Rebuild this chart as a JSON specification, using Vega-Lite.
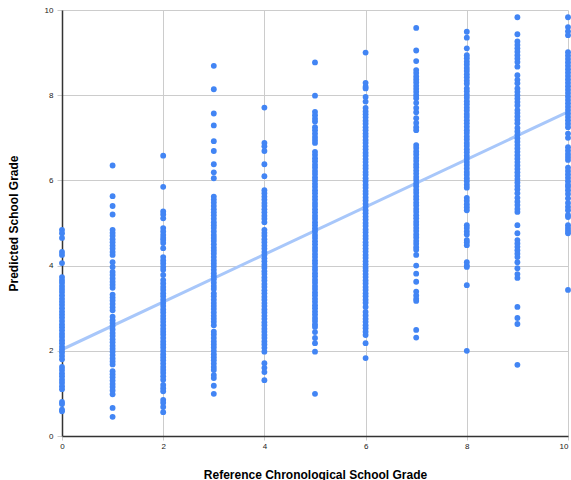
{
  "$schema": "https://vega.github.io/schema/vega-lite/v6.json",
  "width": 506,
  "height": 426,
  "autosize": {"type": "none"},
  "padding": {"left": 62, "top": 10, "right": 3, "bottom": 44},
  "background": "white",
  "config": {
    "view": {"stroke": null},
    "font": "Liberation Sans",
    "axis": {
      "gridColor": "#cccccc",
      "gridWidth": 1,
      "tickColor": "#cccccc",
      "domainColor": "#333333",
      "domainWidth": 1.5,
      "labelFont": "Liberation Sans",
      "labelFontSize": 8,
      "labelColor": "#222222",
      "titleFont": "Liberation Sans",
      "titleFontSize": 12,
      "titleFontWeight": "bold",
      "titleColor": "#000000"
    }
  },
  "datasets": {
    "pts": [
      {"x":0,"y":4.84},{"x":0,"y":4.76},{"x":0,"y":4.65},{"x":0,"y":4.32},{"x":0,"y":4.25},{"x":0,"y":4.06},{"x":0,"y":3.73},{"x":0,"y":3.66},{"x":0,"y":3.6},{"x":0,"y":3.52},{"x":0,"y":3.45},{"x":0,"y":3.38},{"x":0,"y":3.3},{"x":0,"y":3.22},{"x":0,"y":3.15},{"x":0,"y":3.08},{"x":0,"y":3.0},{"x":0,"y":2.92},{"x":0,"y":2.85},{"x":0,"y":2.78},{"x":0,"y":2.7},{"x":0,"y":2.62},{"x":0,"y":2.55},{"x":0,"y":2.48},{"x":0,"y":2.4},{"x":0,"y":2.33},{"x":0,"y":2.25},{"x":0,"y":2.18},{"x":0,"y":2.1},{"x":0,"y":2.03},{"x":0,"y":1.96},{"x":0,"y":1.88},{"x":0,"y":1.8},{"x":0,"y":1.62},{"x":0,"y":1.55},{"x":0,"y":1.47},{"x":0,"y":1.4},{"x":0,"y":1.32},{"x":0,"y":1.25},{"x":0,"y":1.17},{"x":0,"y":1.1},{"x":0,"y":0.8},{"x":0,"y":0.75},{"x":0,"y":0.62},{"x":0,"y":0.58},
      {"x":1,"y":6.35},{"x":1,"y":5.63},{"x":1,"y":5.4},{"x":1,"y":5.2},{"x":1,"y":4.84},{"x":1,"y":4.77},{"x":1,"y":4.7},{"x":1,"y":4.62},{"x":1,"y":4.55},{"x":1,"y":4.47},{"x":1,"y":4.4},{"x":1,"y":4.32},{"x":1,"y":4.25},{"x":1,"y":4.08},{"x":1,"y":3.97},{"x":1,"y":3.85},{"x":1,"y":3.78},{"x":1,"y":3.7},{"x":1,"y":3.62},{"x":1,"y":3.55},{"x":1,"y":3.48},{"x":1,"y":3.32},{"x":1,"y":3.25},{"x":1,"y":3.18},{"x":1,"y":3.1},{"x":1,"y":3.02},{"x":1,"y":2.95},{"x":1,"y":2.8},{"x":1,"y":2.72},{"x":1,"y":2.65},{"x":1,"y":2.58},{"x":1,"y":2.5},{"x":1,"y":2.42},{"x":1,"y":2.35},{"x":1,"y":2.27},{"x":1,"y":2.2},{"x":1,"y":2.12},{"x":1,"y":2.05},{"x":1,"y":1.98},{"x":1,"y":1.9},{"x":1,"y":1.82},{"x":1,"y":1.75},{"x":1,"y":1.68},{"x":1,"y":1.52},{"x":1,"y":1.45},{"x":1,"y":1.38},{"x":1,"y":1.3},{"x":1,"y":1.22},{"x":1,"y":1.15},{"x":1,"y":1.07},{"x":1,"y":0.98},{"x":1,"y":0.66},{"x":1,"y":0.45},
      {"x":2,"y":6.58},{"x":2,"y":5.85},{"x":2,"y":5.27},{"x":2,"y":5.2},{"x":2,"y":5.11},{"x":2,"y":4.88},{"x":2,"y":4.8},{"x":2,"y":4.72},{"x":2,"y":4.65},{"x":2,"y":4.6},{"x":2,"y":4.53},{"x":2,"y":4.41},{"x":2,"y":4.2},{"x":2,"y":4.12},{"x":2,"y":4.05},{"x":2,"y":3.97},{"x":2,"y":3.9},{"x":2,"y":3.78},{"x":2,"y":3.66},{"x":2,"y":3.58},{"x":2,"y":3.5},{"x":2,"y":3.43},{"x":2,"y":3.35},{"x":2,"y":3.28},{"x":2,"y":3.2},{"x":2,"y":3.12},{"x":2,"y":3.05},{"x":2,"y":2.97},{"x":2,"y":2.9},{"x":2,"y":2.82},{"x":2,"y":2.75},{"x":2,"y":2.68},{"x":2,"y":2.6},{"x":2,"y":2.52},{"x":2,"y":2.45},{"x":2,"y":2.38},{"x":2,"y":2.3},{"x":2,"y":2.22},{"x":2,"y":2.15},{"x":2,"y":2.08},{"x":2,"y":2.0},{"x":2,"y":1.92},{"x":2,"y":1.85},{"x":2,"y":1.78},{"x":2,"y":1.7},{"x":2,"y":1.62},{"x":2,"y":1.55},{"x":2,"y":1.48},{"x":2,"y":1.4},{"x":2,"y":1.32},{"x":2,"y":1.2},{"x":2,"y":1.12},{"x":2,"y":1.05},{"x":2,"y":0.85},{"x":2,"y":0.78},{"x":2,"y":0.68},{"x":2,"y":0.56},
      {"x":3,"y":8.69},{"x":3,"y":8.14},{"x":3,"y":7.57},{"x":3,"y":7.29},{"x":3,"y":6.92},{"x":3,"y":6.69},{"x":3,"y":6.38},{"x":3,"y":6.19},{"x":3,"y":6.05},{"x":3,"y":5.62},{"x":3,"y":5.55},{"x":3,"y":5.48},{"x":3,"y":5.4},{"x":3,"y":5.32},{"x":3,"y":5.25},{"x":3,"y":5.18},{"x":3,"y":5.1},{"x":3,"y":5.02},{"x":3,"y":4.95},{"x":3,"y":4.88},{"x":3,"y":4.8},{"x":3,"y":4.72},{"x":3,"y":4.65},{"x":3,"y":4.58},{"x":3,"y":4.5},{"x":3,"y":4.42},{"x":3,"y":4.35},{"x":3,"y":4.28},{"x":3,"y":4.2},{"x":3,"y":4.12},{"x":3,"y":4.05},{"x":3,"y":3.98},{"x":3,"y":3.9},{"x":3,"y":3.82},{"x":3,"y":3.75},{"x":3,"y":3.68},{"x":3,"y":3.6},{"x":3,"y":3.52},{"x":3,"y":3.45},{"x":3,"y":3.35},{"x":3,"y":3.28},{"x":3,"y":3.2},{"x":3,"y":3.12},{"x":3,"y":3.05},{"x":3,"y":2.98},{"x":3,"y":2.9},{"x":3,"y":2.82},{"x":3,"y":2.75},{"x":3,"y":2.68},{"x":3,"y":2.6},{"x":3,"y":2.45},{"x":3,"y":2.38},{"x":3,"y":2.3},{"x":3,"y":2.22},{"x":3,"y":2.15},{"x":3,"y":2.08},{"x":3,"y":2.0},{"x":3,"y":1.92},{"x":3,"y":1.85},{"x":3,"y":1.78},{"x":3,"y":1.7},{"x":3,"y":1.62},{"x":3,"y":1.55},{"x":3,"y":1.43},{"x":3,"y":1.36},{"x":3,"y":1.18},{"x":3,"y":0.99},
      {"x":4,"y":7.71},{"x":4,"y":6.88},{"x":4,"y":6.8},{"x":4,"y":6.69},{"x":4,"y":6.38},{"x":4,"y":6.1},{"x":4,"y":5.77},{"x":4,"y":5.7},{"x":4,"y":5.62},{"x":4,"y":5.55},{"x":4,"y":5.47},{"x":4,"y":5.4},{"x":4,"y":5.32},{"x":4,"y":5.25},{"x":4,"y":5.17},{"x":4,"y":5.1},{"x":4,"y":5.02},{"x":4,"y":4.84},{"x":4,"y":4.77},{"x":4,"y":4.7},{"x":4,"y":4.62},{"x":4,"y":4.55},{"x":4,"y":4.47},{"x":4,"y":4.4},{"x":4,"y":4.32},{"x":4,"y":4.25},{"x":4,"y":4.17},{"x":4,"y":4.1},{"x":4,"y":4.02},{"x":4,"y":3.95},{"x":4,"y":3.87},{"x":4,"y":3.8},{"x":4,"y":3.72},{"x":4,"y":3.65},{"x":4,"y":3.57},{"x":4,"y":3.5},{"x":4,"y":3.42},{"x":4,"y":3.35},{"x":4,"y":3.27},{"x":4,"y":3.2},{"x":4,"y":3.12},{"x":4,"y":3.05},{"x":4,"y":2.97},{"x":4,"y":2.9},{"x":4,"y":2.82},{"x":4,"y":2.75},{"x":4,"y":2.67},{"x":4,"y":2.6},{"x":4,"y":2.52},{"x":4,"y":2.45},{"x":4,"y":2.37},{"x":4,"y":2.3},{"x":4,"y":2.22},{"x":4,"y":2.15},{"x":4,"y":2.07},{"x":4,"y":1.98},{"x":4,"y":1.71},{"x":4,"y":1.6},{"x":4,"y":1.5},{"x":4,"y":1.31},
      {"x":5,"y":8.77},{"x":5,"y":7.99},{"x":5,"y":7.61},{"x":5,"y":7.53},{"x":5,"y":7.45},{"x":5,"y":7.38},{"x":5,"y":7.25},{"x":5,"y":7.18},{"x":5,"y":7.1},{"x":5,"y":7.02},{"x":5,"y":6.95},{"x":5,"y":6.88},{"x":5,"y":6.67},{"x":5,"y":6.6},{"x":5,"y":6.52},{"x":5,"y":6.45},{"x":5,"y":6.37},{"x":5,"y":6.3},{"x":5,"y":6.22},{"x":5,"y":6.15},{"x":5,"y":6.07},{"x":5,"y":6.0},{"x":5,"y":5.92},{"x":5,"y":5.85},{"x":5,"y":5.77},{"x":5,"y":5.7},{"x":5,"y":5.62},{"x":5,"y":5.55},{"x":5,"y":5.47},{"x":5,"y":5.4},{"x":5,"y":5.32},{"x":5,"y":5.25},{"x":5,"y":5.17},{"x":5,"y":5.1},{"x":5,"y":5.02},{"x":5,"y":4.95},{"x":5,"y":4.87},{"x":5,"y":4.8},{"x":5,"y":4.72},{"x":5,"y":4.65},{"x":5,"y":4.57},{"x":5,"y":4.5},{"x":5,"y":4.42},{"x":5,"y":4.35},{"x":5,"y":4.27},{"x":5,"y":4.2},{"x":5,"y":4.12},{"x":5,"y":4.05},{"x":5,"y":3.97},{"x":5,"y":3.9},{"x":5,"y":3.82},{"x":5,"y":3.75},{"x":5,"y":3.67},{"x":5,"y":3.6},{"x":5,"y":3.52},{"x":5,"y":3.45},{"x":5,"y":3.37},{"x":5,"y":3.3},{"x":5,"y":3.22},{"x":5,"y":3.15},{"x":5,"y":3.07},{"x":5,"y":3.0},{"x":5,"y":2.92},{"x":5,"y":2.85},{"x":5,"y":2.77},{"x":5,"y":2.7},{"x":5,"y":2.62},{"x":5,"y":2.56},{"x":5,"y":2.44},{"x":5,"y":2.3},{"x":5,"y":2.18},{"x":5,"y":1.98},{"x":5,"y":0.99},
      {"x":6,"y":9.0},{"x":6,"y":8.29},{"x":6,"y":8.2},{"x":6,"y":8.16},{"x":6,"y":7.96},{"x":6,"y":7.85},{"x":6,"y":7.7},{"x":6,"y":7.62},{"x":6,"y":7.55},{"x":6,"y":7.48},{"x":6,"y":7.4},{"x":6,"y":7.33},{"x":6,"y":7.25},{"x":6,"y":7.18},{"x":6,"y":7.1},{"x":6,"y":7.03},{"x":6,"y":6.95},{"x":6,"y":6.88},{"x":6,"y":6.8},{"x":6,"y":6.73},{"x":6,"y":6.65},{"x":6,"y":6.58},{"x":6,"y":6.5},{"x":6,"y":6.43},{"x":6,"y":6.35},{"x":6,"y":6.28},{"x":6,"y":6.2},{"x":6,"y":6.13},{"x":6,"y":6.05},{"x":6,"y":5.98},{"x":6,"y":5.9},{"x":6,"y":5.83},{"x":6,"y":5.75},{"x":6,"y":5.68},{"x":6,"y":5.6},{"x":6,"y":5.53},{"x":6,"y":5.45},{"x":6,"y":5.38},{"x":6,"y":5.3},{"x":6,"y":5.23},{"x":6,"y":5.15},{"x":6,"y":5.08},{"x":6,"y":5.0},{"x":6,"y":4.93},{"x":6,"y":4.85},{"x":6,"y":4.78},{"x":6,"y":4.7},{"x":6,"y":4.63},{"x":6,"y":4.55},{"x":6,"y":4.48},{"x":6,"y":4.4},{"x":6,"y":4.33},{"x":6,"y":4.25},{"x":6,"y":4.18},{"x":6,"y":4.1},{"x":6,"y":4.03},{"x":6,"y":3.95},{"x":6,"y":3.88},{"x":6,"y":3.8},{"x":6,"y":3.73},{"x":6,"y":3.65},{"x":6,"y":3.58},{"x":6,"y":3.5},{"x":6,"y":3.43},{"x":6,"y":3.35},{"x":6,"y":3.28},{"x":6,"y":3.2},{"x":6,"y":3.13},{"x":6,"y":3.03},{"x":6,"y":2.91},{"x":6,"y":2.83},{"x":6,"y":2.75},{"x":6,"y":2.68},{"x":6,"y":2.6},{"x":6,"y":2.53},{"x":6,"y":2.45},{"x":6,"y":2.37},{"x":6,"y":2.18},{"x":6,"y":1.83},
      {"x":7,"y":9.58},{"x":7,"y":9.05},{"x":7,"y":8.8},{"x":7,"y":8.59},{"x":7,"y":8.52},{"x":7,"y":8.44},{"x":7,"y":8.37},{"x":7,"y":8.3},{"x":7,"y":8.22},{"x":7,"y":8.15},{"x":7,"y":8.08},{"x":7,"y":8.0},{"x":7,"y":7.93},{"x":7,"y":7.82},{"x":7,"y":7.7},{"x":7,"y":7.6},{"x":7,"y":7.46},{"x":7,"y":7.35},{"x":7,"y":7.25},{"x":7,"y":7.18},{"x":7,"y":6.83},{"x":7,"y":6.76},{"x":7,"y":6.68},{"x":7,"y":6.61},{"x":7,"y":6.53},{"x":7,"y":6.46},{"x":7,"y":6.38},{"x":7,"y":6.31},{"x":7,"y":6.23},{"x":7,"y":6.16},{"x":7,"y":6.08},{"x":7,"y":6.01},{"x":7,"y":5.93},{"x":7,"y":5.86},{"x":7,"y":5.78},{"x":7,"y":5.71},{"x":7,"y":5.63},{"x":7,"y":5.56},{"x":7,"y":5.48},{"x":7,"y":5.41},{"x":7,"y":5.33},{"x":7,"y":5.26},{"x":7,"y":5.18},{"x":7,"y":5.11},{"x":7,"y":5.03},{"x":7,"y":4.96},{"x":7,"y":4.88},{"x":7,"y":4.81},{"x":7,"y":4.73},{"x":7,"y":4.66},{"x":7,"y":4.58},{"x":7,"y":4.51},{"x":7,"y":4.43},{"x":7,"y":4.37},{"x":7,"y":4.25},{"x":7,"y":4.0},{"x":7,"y":3.81},{"x":7,"y":3.62},{"x":7,"y":3.39},{"x":7,"y":3.3},{"x":7,"y":3.22},{"x":7,"y":3.17},{"x":7,"y":2.49},{"x":7,"y":2.31},
      {"x":8,"y":9.49},{"x":8,"y":9.35},{"x":8,"y":9.1},{"x":8,"y":8.94},{"x":8,"y":8.87},{"x":8,"y":8.79},{"x":8,"y":8.72},{"x":8,"y":8.64},{"x":8,"y":8.57},{"x":8,"y":8.49},{"x":8,"y":8.42},{"x":8,"y":8.34},{"x":8,"y":8.27},{"x":8,"y":8.16},{"x":8,"y":8.09},{"x":8,"y":8.01},{"x":8,"y":7.94},{"x":8,"y":7.86},{"x":8,"y":7.79},{"x":8,"y":7.71},{"x":8,"y":7.64},{"x":8,"y":7.56},{"x":8,"y":7.49},{"x":8,"y":7.41},{"x":8,"y":7.34},{"x":8,"y":7.26},{"x":8,"y":7.18},{"x":8,"y":7.11},{"x":8,"y":7.03},{"x":8,"y":6.96},{"x":8,"y":6.88},{"x":8,"y":6.81},{"x":8,"y":6.73},{"x":8,"y":6.66},{"x":8,"y":6.58},{"x":8,"y":6.51},{"x":8,"y":6.43},{"x":8,"y":6.36},{"x":8,"y":6.28},{"x":8,"y":6.2},{"x":8,"y":6.13},{"x":8,"y":6.05},{"x":8,"y":5.98},{"x":8,"y":5.9},{"x":8,"y":5.83},{"x":8,"y":5.59},{"x":8,"y":5.52},{"x":8,"y":5.44},{"x":8,"y":5.37},{"x":8,"y":5.3},{"x":8,"y":4.95},{"x":8,"y":4.88},{"x":8,"y":4.8},{"x":8,"y":4.73},{"x":8,"y":4.6},{"x":8,"y":4.55},{"x":8,"y":4.48},{"x":8,"y":4.08},{"x":8,"y":4.0},{"x":8,"y":3.97},{"x":8,"y":3.54},{"x":8,"y":2.0},
      {"x":9,"y":9.83},{"x":9,"y":9.43},{"x":9,"y":9.26},{"x":9,"y":9.18},{"x":9,"y":9.1},{"x":9,"y":9.02},{"x":9,"y":8.94},{"x":9,"y":8.86},{"x":9,"y":8.78},{"x":9,"y":8.67},{"x":9,"y":8.47},{"x":9,"y":8.36},{"x":9,"y":8.28},{"x":9,"y":8.16},{"x":9,"y":8.08},{"x":9,"y":8.0},{"x":9,"y":7.92},{"x":9,"y":7.84},{"x":9,"y":7.76},{"x":9,"y":7.65},{"x":9,"y":7.58},{"x":9,"y":7.5},{"x":9,"y":7.42},{"x":9,"y":7.34},{"x":9,"y":7.23},{"x":9,"y":7.15},{"x":9,"y":7.07},{"x":9,"y":6.99},{"x":9,"y":6.91},{"x":9,"y":6.83},{"x":9,"y":6.75},{"x":9,"y":6.67},{"x":9,"y":6.59},{"x":9,"y":6.51},{"x":9,"y":6.43},{"x":9,"y":6.35},{"x":9,"y":6.27},{"x":9,"y":6.19},{"x":9,"y":6.11},{"x":9,"y":6.03},{"x":9,"y":5.95},{"x":9,"y":5.87},{"x":9,"y":5.79},{"x":9,"y":5.7},{"x":9,"y":5.59},{"x":9,"y":5.5},{"x":9,"y":5.42},{"x":9,"y":5.33},{"x":9,"y":5.26},{"x":9,"y":4.95},{"x":9,"y":4.76},{"x":9,"y":4.6},{"x":9,"y":4.52},{"x":9,"y":4.44},{"x":9,"y":4.36},{"x":9,"y":4.28},{"x":9,"y":4.2},{"x":9,"y":4.08},{"x":9,"y":3.94},{"x":9,"y":3.8},{"x":9,"y":3.71},{"x":9,"y":3.03},{"x":9,"y":2.77},{"x":9,"y":2.63},{"x":9,"y":1.67},
      {"x":10,"y":9.83},{"x":10,"y":9.6},{"x":10,"y":9.5},{"x":10,"y":9.41},{"x":10,"y":9.01},{"x":10,"y":8.93},{"x":10,"y":8.85},{"x":10,"y":8.77},{"x":10,"y":8.69},{"x":10,"y":8.61},{"x":10,"y":8.53},{"x":10,"y":8.45},{"x":10,"y":8.37},{"x":10,"y":8.29},{"x":10,"y":8.21},{"x":10,"y":8.13},{"x":10,"y":8.05},{"x":10,"y":7.97},{"x":10,"y":7.89},{"x":10,"y":7.81},{"x":10,"y":7.73},{"x":10,"y":7.65},{"x":10,"y":7.57},{"x":10,"y":7.49},{"x":10,"y":7.41},{"x":10,"y":7.33},{"x":10,"y":7.25},{"x":10,"y":7.1},{"x":10,"y":7.0},{"x":10,"y":6.78},{"x":10,"y":6.7},{"x":10,"y":6.62},{"x":10,"y":6.55},{"x":10,"y":6.48},{"x":10,"y":6.3},{"x":10,"y":6.22},{"x":10,"y":6.14},{"x":10,"y":6.06},{"x":10,"y":5.98},{"x":10,"y":5.9},{"x":10,"y":5.85},{"x":10,"y":5.77},{"x":10,"y":5.68},{"x":10,"y":5.58},{"x":10,"y":5.47},{"x":10,"y":5.38},{"x":10,"y":5.3},{"x":10,"y":5.19},{"x":10,"y":5.14},{"x":10,"y":4.95},{"x":10,"y":4.88},{"x":10,"y":4.82},{"x":10,"y":4.76},{"x":10,"y":3.43}
    ],
    "trend": [
      {"x":0,"y":2.03},{"x":10,"y":7.61}
    ]
  },
  "encoding": {
    "x": {
      "field": "x", "type": "quantitative",
      "scale": {"domain": [0, 10], "nice": false, "zero": false},
      "axis": {
        "values": [0,2,4,6,8,10],
        "title": "Reference Chronological School Grade",
        "tickSize": 4, "labelPadding": 2, "titlePadding": 19, "labelFlush": false,
        "labelAlign": {"condition": {"test": "datum.value === 10", "value": "right"}, "value": "center"},
        "labelDx": {"condition": {"test": "datum.value === 10", "value": 3}, "value": 0}
      }
    },
    "y": {
      "field": "y", "type": "quantitative",
      "scale": {"domain": [0, 10], "nice": false},
      "axis": {"values": [0,2,4,6,8,10], "title": "Predicted School Grade", "tickSize": 5, "labelPadding": 4, "titlePadding": 24, "labelFlush": false}
    }
  },
  "layer": [
    {
      "data": {"name": "trend"},
      "mark": {"type": "line", "color": "#A8C7FA", "strokeWidth": 3, "clip": true}
    },
    {
      "data": {"name": "pts"},
      "mark": {"type": "circle", "color": "#4285F4", "opacity": 1, "size": 34}
    }
  ]
}
